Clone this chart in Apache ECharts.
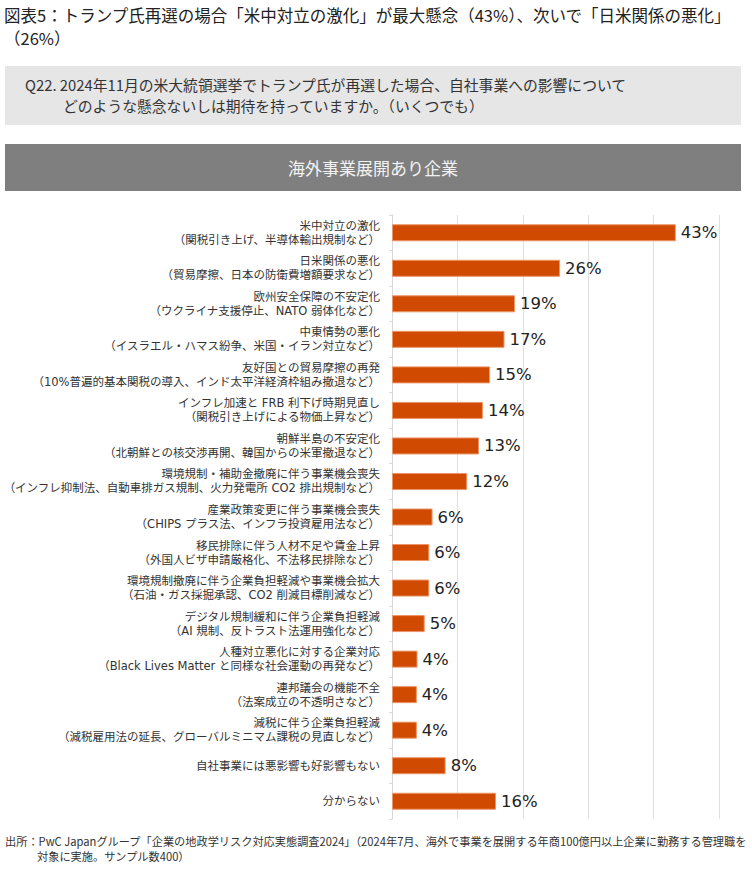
<!DOCTYPE html>
<html><head><meta charset="utf-8">
<script src="https://cdn.jsdelivr.net/npm/echarts@6/dist/echarts.min.js"></script>
<style>html,body{margin:0;padding:0;background:#fff}#c{width:752px;height:872px}</style>
</head><body><div id="c"></div>
<script>
const titleLines = ['図表5：トランプ氏再選の場合「米中対立の激化」が最大懸念（43%）、次いで「日米関係の悪化」', '（26%）'];
const questionLines = ['Q22. 2024年11月の米大統領選挙でトランプ氏が再選した場合、自社事業への影響について', 'どのような懸念ないしは期待を持っていますか。（いくつでも）'];
const headerText = '海外事業展開あり企業';
const sourceLines = ['出所：PwC Japanグループ「企業の地政学リスク対応実態調査2024」（2024年7月、海外で事業を展開する年商100億円以上企業に勤務する管理職を', '対象に実施。サンプル数400）'];

const categories = [
  '米中対立の激化\n（関税引き上げ、半導体輸出規制など）',
  '日米関係の悪化\n（貿易摩擦、日本の防衛費増額要求など）',
  '欧州安全保障の不安定化\n（ウクライナ支援停止、NATO 弱体化など）',
  '中東情勢の悪化\n（イスラエル・ハマス紛争、米国・イラン対立など）',
  '友好国との貿易摩擦の再発\n（10%普遍的基本関税の導入、インド太平洋経済枠組み撤退など）',
  'インフレ加速と FRB 利下げ時期見直し\n（関税引き上げによる物価上昇など）',
  '朝鮮半島の不安定化\n（北朝鮮との核交渉再開、韓国からの米軍撤退など）',
  '環境規制・補助金撤廃に伴う事業機会喪失\n（インフレ抑制法、自動車排ガス規制、火力発電所 CO2 排出規制など）',
  '産業政策変更に伴う事業機会喪失\n（CHIPS プラス法、インフラ投資雇用法など）',
  '移民排除に伴う人材不足や賃金上昇\n（外国人ビザ申請厳格化、不法移民排除など）',
  '環境規制撤廃に伴う企業負担軽減や事業機会拡大\n（石油・ガス採掘承認、CO2 削減目標削減など）',
  'デジタル規制緩和に伴う企業負担軽減\n（AI 規制、反トラスト法運用強化など）',
  '人種対立悪化に対する企業対応\n（Black Lives Matter と同様な社会運動の再発など）',
  '連邦議会の機能不全\n（法案成立の不透明さなど）',
  '減税に伴う企業負担軽減\n（減税雇用法の延長、グローバルミニマム課税の見直しなど）',
  '自社事業には悪影響も好影響もない',
  '分からない'
];
// values (%); labels show rounded percentages
const values = [43.4, 25.7, 18.8, 17.2, 15.0, 13.9, 13.3, 11.5, 6.2, 5.7, 5.7, 5.0, 3.9, 3.8, 3.8, 8.2, 15.9];
const xTicks = [0, 10, 20, 30, 40, 50];

const JP = '"Noto Sans CJK JP", sans-serif';
const MIX = '"DejaVu Sans", "Noto Sans CJK JP", sans-serif';

const chart = echarts.init(document.getElementById('c'), null, {renderer: 'svg'});
chart.setOption({
  animation: false,
  backgroundColor: '#ffffff',
  graphic: [
    {type: 'text', left: 4, top: 7, style: {text: titleLines[0], font: '16.5px ' + JP, fill: '#222'}},
    {type: 'text', left: 4, top: 30, style: {text: titleLines[1], font: '16.5px ' + JP, fill: '#222'}},
    {type: 'rect', shape: {x: 5, y: 66, width: 736, height: 59}, style: {fill: '#e6e6e6'}},
    {type: 'text', left: 25, top: 77, style: {text: questionLines[0], font: '14.8px ' + JP, fill: '#333'}},
    {type: 'text', left: 63, top: 98, style: {text: questionLines[1], font: '14.8px ' + JP, fill: '#333'}},
    {type: 'rect', shape: {x: 5, y: 144, width: 736, height: 47}, style: {fill: '#7f7f7f'}},
    {type: 'text', x: 373, y: 167, style: {text: headerText, font: '17px ' + JP, fill: '#f2f2f2', align: 'center', verticalAlign: 'middle'}},
    {type: 'text', left: 5, top: 835, style: {text: sourceLines[0], font: '11.2px ' + JP, fill: '#333'}},
    {type: 'text', left: 37, top: 850, style: {text: sourceLines[1], font: '11.2px ' + JP, fill: '#333'}}
  ],
  grid: {left: 392, right: 33, top: 215, bottom: 53, containLabel: false, outerBoundsMode: 'none'},
  xAxis: {
    type: 'value', min: xTicks[0], max: xTicks[xTicks.length - 1], interval: 10,
    axisLabel: {show: false}, axisLine: {show: false}, axisTick: {show: false},
    splitLine: {show: true, lineStyle: {color: '#e0e0e0', width: 1}}
  },
  yAxis: {
    type: 'category', data: categories, inverse: true,
    axisLine: {show: true, lineStyle: {color: '#d9d9d9'}},
    axisTick: {show: true, length: 3, lineStyle: {color: '#d9d9d9'}},
    axisLabel: {margin: 12, fontSize: 11.5, lineHeight: 14, color: '#333', fontFamily: MIX, align: 'right'}
  },
  series: [{
    type: 'bar', data: values, barWidth: 17,
    itemStyle: {color: '#d04a02', borderColor: '#ec9466', borderWidth: 1},
    label: {show: true, position: 'right', distance: 5, fontSize: 16.5, color: '#222', fontFamily: MIX,
      formatter: p => Math.round(p.value) + '%'}
  }]
});
</script></body></html>
